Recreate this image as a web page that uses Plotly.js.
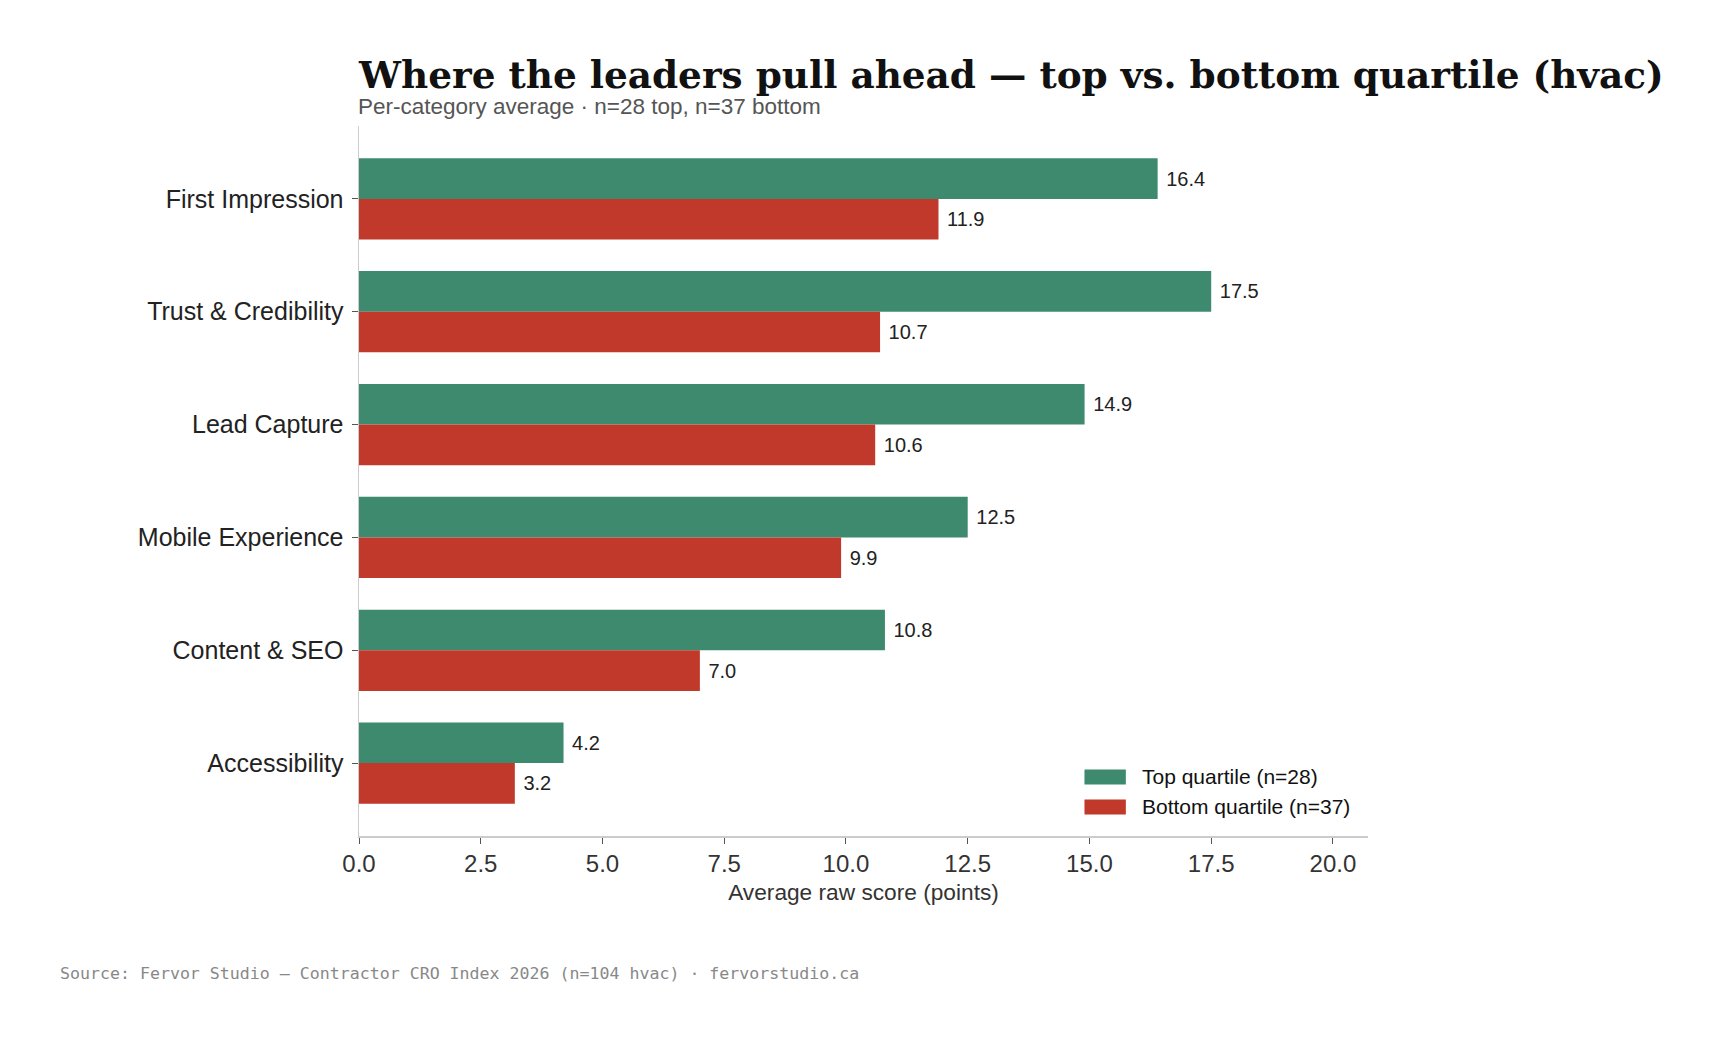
<!DOCTYPE html>
<html>
<head>
<meta charset="utf-8">
<script src="https://cdn.plot.ly/plotly-3.0.1.min.js"></script>
<style>
  html, body { margin: 0; padding: 0; background: #ffffff; }
  #chart { width: 1724px; height: 1042px; }
</style>
</head>
<body>
<div id="chart"></div>
<script>
// Category averages, top vs bottom quartile
const categories = ["First Impression", "Trust & Credibility", "Lead Capture",
                    "Mobile Experience", "Content & SEO", "Accessibility"];
const topQuartile = [16.4, 17.5, 14.9, 12.5, 10.8, 4.2];
const bottomQuartile = [11.9, 10.7, 10.6, 9.9, 7.0, 3.2];
const seriesNames = ["Top quartile (n=28)", "Bottom quartile (n=37)"];
const xTicks = [0, 2.5, 5, 7.5, 10, 12.5, 15, 17.5, 20];

const GREEN = "#3e8a6f";
const RED = "#c0392b";
const SANS = "Liberation Sans, Arial, Helvetica, sans-serif";

function barTrace(values, name, color) {
  return {
    type: "bar",
    orientation: "h",
    name: name,
    y: categories,
    x: values,
    marker: { color: color, line: { width: 0 } },
    texttemplate: "\u00a0%{x:.1f}",
    textposition: "outside",
    textfont: { family: SANS, size: 20, color: "#222222" },
    cliponaxis: false,
    showlegend: false,
    hoverinfo: "x+y+name"
  };
}

const traces = [
  barTrace(topQuartile, seriesNames[0], GREEN),
  barTrace(bottomQuartile, seriesNames[1], RED)
];

// Legend drawn as swatches + labels in the lower right of the plot area
const legendRows = [
  { name: seriesNames[0], color: GREEN, y0: 0.0725, y1: 0.0937 },
  { name: seriesNames[1], color: RED, y0: 0.0303, y1: 0.0514 }
];
const legendShapes = legendRows.map(r => ({
  type: "rect", xref: "paper", yref: "paper",
  x0: 0.719, x1: 0.760, y0: r.y0, y1: r.y1,
  fillcolor: r.color, line: { width: 0 }
}));
const legendLabels = legendRows.map(r => ({
  xref: "paper", yref: "paper", x: 0.774, y: (r.y0 + r.y1) / 2,
  xanchor: "left", yanchor: "middle", showarrow: false,
  text: r.name, font: { family: SANS, size: 21, color: "#111111" }
}));

const layout = {
  width: 1724,
  height: 1042,
  paper_bgcolor: "#ffffff",
  plot_bgcolor: "#ffffff",
  margin: { l: 359, r: 356, t: 126, b: 206 },
  barmode: "group",
  bargap: 0.28,
  bargroupgap: 0,
  title: {
    text: "Where the leaders pull ahead — top vs. bottom quartile (hvac)",
    font: { family: "DejaVu Serif, serif", size: 37.4, color: "#111111", weight: "bold" },
    xref: "paper", x: 0, xanchor: "left",
    yref: "container", y: 0.928, yanchor: "middle"
  },
  xaxis: {
    range: [0, 20.72],
    tickvals: xTicks,
    tickformat: ".1f",
    showgrid: false,
    zeroline: false,
    showline: true,
    linecolor: "#cccccc",
    linewidth: 1.5,
    ticks: "outside",
    ticklen: 6,
    tickcolor: "#555555",
    tickfont: { family: SANS, size: 24, color: "#333333" },
    title: {
      text: "Average raw score (points)",
      font: { family: SANS, size: 22.7, color: "#333333" },
      standoff: 8
    }
  },
  yaxis: {
    type: "category",
    categoryorder: "array",
    categoryarray: categories,
    range: [5.646, -0.646],
    showgrid: false,
    zeroline: false,
    showline: true,
    linecolor: "#cccccc",
    linewidth: 1.5,
    ticks: "outside",
    ticklen: 6,
    tickcolor: "#555555",
    ticklabelstandoff: 3,
    tickfont: { family: SANS, size: 25, color: "#222222" }
  },
  shapes: legendShapes,
  annotations: [
    {
      xref: "paper", yref: "paper", x: -0.003, y: 1.028,
      xanchor: "left", yanchor: "middle", showarrow: false,
      text: "Per-category average · n=28 top, n=37 bottom",
      font: { family: SANS, size: 22.5, color: "#555555" }
    },
    {
      xref: "paper", yref: "paper", x: -0.298, y: -0.193,
      xanchor: "left", yanchor: "middle", showarrow: false,
      text: "Source: Fervor Studio — Contractor CRO Index 2026 (n=104 hvac) · fervorstudio.ca",
      font: { family: "DejaVu Sans Mono, monospace", size: 16.6, color: "#888888" }
    }
  ].concat(legendLabels),
  font: { family: SANS }
};

Plotly.newPlot("chart", traces, layout, { displayModeBar: false, staticPlot: true });
</script>
</body>
</html>
